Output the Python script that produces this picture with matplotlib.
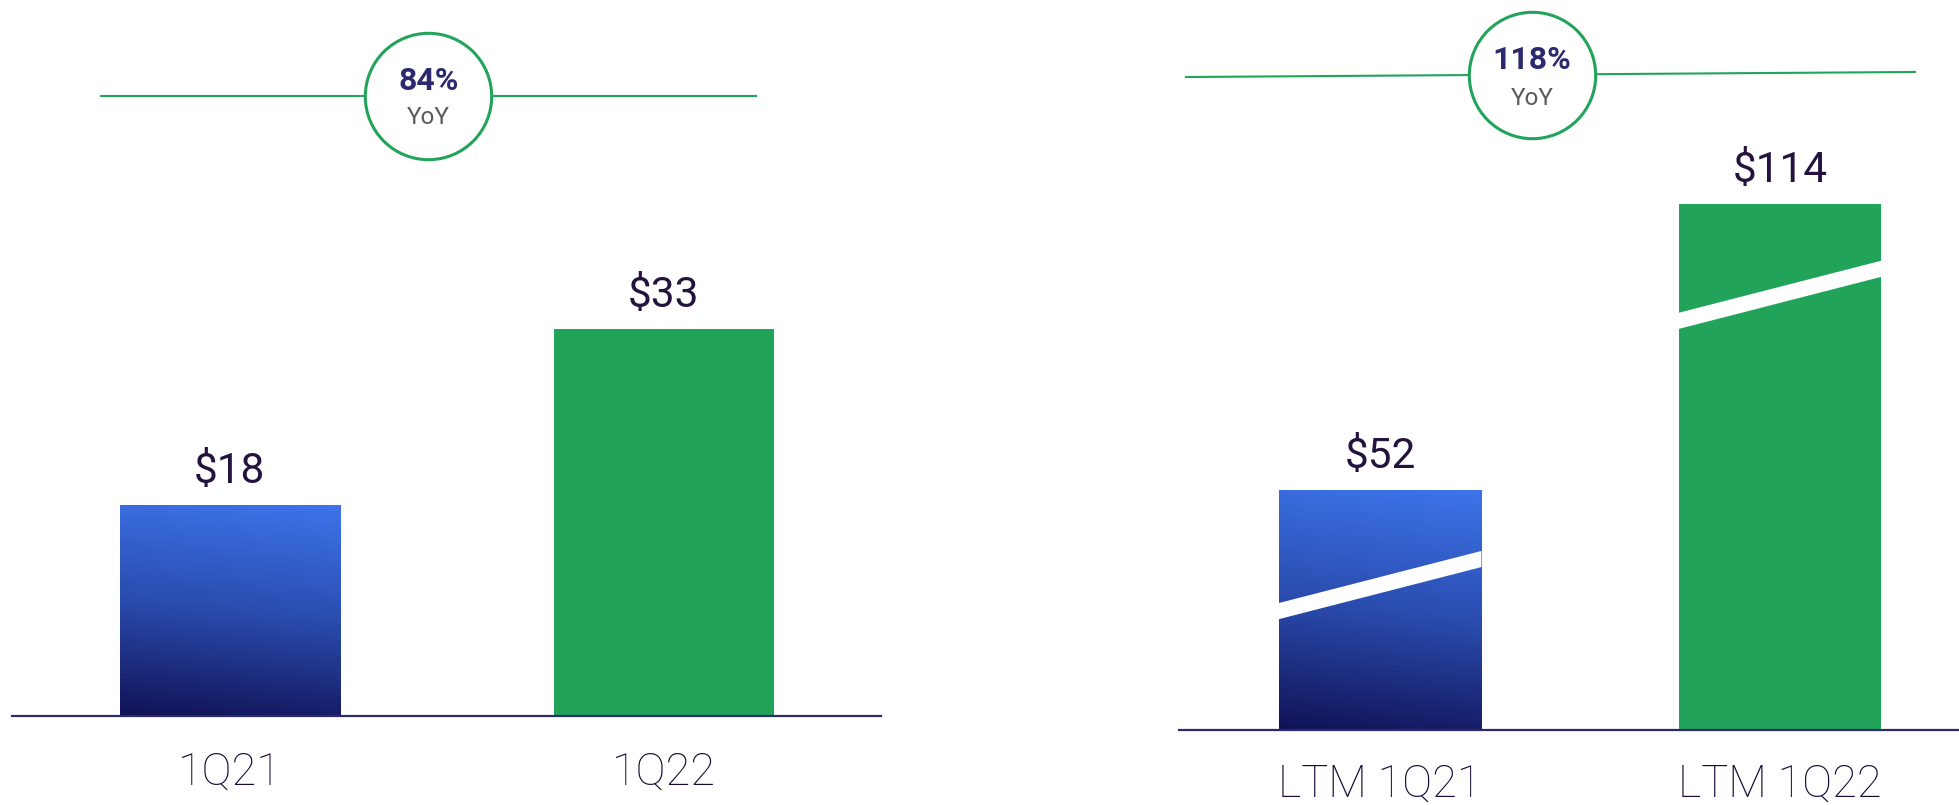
import numpy as np
import matplotlib
matplotlib.use("Agg")
import matplotlib.pyplot as plt
from matplotlib.colors import LinearSegmentedColormap
from matplotlib.patches import Polygon
import matplotlib.transforms as mtransforms

plt.rcParams['font.family'] = ['Roboto', 'DejaVu Sans']

# data
q_cats = ['1Q21', '1Q22']
q_vals = [18, 33]
q_labels = ['$18', '$33']
q_yoy = '84%'

ltm_cats = ['LTM 1Q21', 'LTM 1Q22']
ltm_vals = [52, 114]
ltm_labels = ['$52', '$114']
ltm_yoy = '118%'

GREEN = '#22A35A'
NAVY = '#2B2A6B'
TXT = '#24123F'
blue_cmap = LinearSegmentedColormap.from_list('b', ['#111256', '#2A4CAE', '#3D74EA'])

W, H = 1959, 805
fig = plt.figure(figsize=(W / 100, H / 100), dpi=100)


def px_axes(x0, x1, base):
    # axes from pixel x0..x1, bottom at pixel row base, up to top of figure
    return fig.add_axes([x0 / W, (H - base) / H, (x1 - x0) / W, base / H])


def grad_bar(ax, bar):
    x, y = bar.get_x(), bar.get_y()
    w, h = bar.get_width(), bar.get_height()
    yy, xx = np.mgrid[0:1:200j, 0:1:50j]
    z = yy * 0.9 + xx * 0.1
    im = ax.imshow(z, cmap=blue_cmap, origin='lower', aspect='auto',
                   extent=[x, x + w, y, y + h], zorder=2)
    im.set_clip_path(bar)
    bar.set_facecolor('none')


def style(ax, cats, pad):
    for s in ['top', 'right', 'left']:
        ax.spines[s].set_visible(False)
    ax.spines['bottom'].set_color(NAVY)
    ax.spines['bottom'].set_linewidth(1.6)
    ax.set_yticks([])
    ax.set_xticks(range(len(cats)))
    ax.set_xticklabels(cats, fontsize=32.5, color='#170933', fontweight='light')
    ax.tick_params(axis='x', length=0, pad=pad)


def yoy(ax, xs, ys, cx, cy, txt, dy1, dy2):
    tr = mtransforms.blended_transform_factory(ax.transData, ax.transAxes)
    ax.plot(xs, ys, color=GREEN, lw=1.5, transform=tr, zorder=3, clip_on=False)
    ax.plot([cx], [cy], marker='o', ms=91, mfc='white', mec=GREEN, mew=2.2,
            transform=tr, zorder=4, clip_on=False)
    ax.text(cx, cy + dy1, txt, transform=tr, ha='center', va='center',
            fontsize=23, fontweight='bold', color='#2B2A6E', zorder=5)
    ax.text(cx, cy + dy2, 'YoY', transform=tr, ha='center', va='center',
            fontsize=17.5, color='#5A5A5A', zorder=5)


def brk(ax, bar, yc, rise, thick):
    x0 = bar.get_x()
    x1 = x0 + bar.get_width()
    ya, yb = yc - rise / 2, yc + rise / 2
    poly = Polygon([[x0, ya - thick / 2], [x1, yb - thick / 2],
                    [x1, yb + thick / 2], [x0, ya + thick / 2]],
                   closed=True, fc='white', ec='none', zorder=3)
    ax.add_patch(poly)


# left panel
ax1 = px_axes(12, 881, 716)
bars1 = ax1.bar(range(len(q_cats)), q_vals, width=0.507, zorder=2)
grad_bar(ax1, bars1[0])
bars1[1].set_facecolor(GREEN)
ax1.set_xlim(-0.502, 1.5)
ax1.set_ylim(0, 716 / 11.72)
style(ax1, q_cats, 25)
for b, lab in zip(bars1, q_labels):
    ax1.annotate(lab, (b.get_x() + b.get_width() / 2, b.get_height()),
                 xytext=(0, 24), textcoords='offset points', ha='center',
                 va='center', fontsize=30.5, color=TXT)
yoy(ax1, [-0.297, 1.212], [0.866, 0.866], 0.457, 0.866, q_yoy, 0.021, -0.030)

# right panel
ax2 = px_axes(1179, 1959, 730)
bars2 = ax2.bar(range(len(ltm_cats)), ltm_vals, width=0.507, zorder=2)
grad_bar(ax2, bars2[0])
bars2[1].set_facecolor(GREEN)
ax2.set_xlim(-0.5025, 1.4475)
ax2.set_ylim(0, 730 / 4.615)
style(ax2, ltm_cats, 24)
for b, lab in zip(bars2, ltm_labels):
    ax2.annotate(lab, (b.get_x() + b.get_width() / 2, b.get_height()),
                 xytext=(0, 24), textcoords='offset points', ha='center',
                 va='center', fontsize=30.5, color=TXT)
yoy(ax2, [-0.485, 1.3375], [0.8945, 0.9014], 0.38, 0.897, ltm_yoy, 0.021, -0.032)
brk(ax2, bars2[0], 31.4, 11.3, 3.5)
brk(ax2, bars2[1], 94.3, 11.3, 3.5)

fig.savefig('out.png', dpi=100, facecolor='white')
